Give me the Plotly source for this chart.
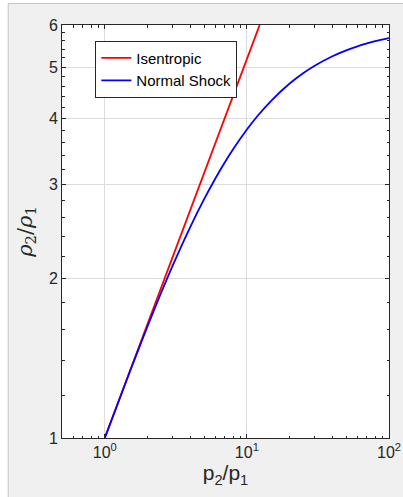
import plotly.graph_objects as go

# Data
iso_p = [1.0, 1.5, 2.0, 3.0, 4.0, 5.0, 6.0, 8.0, 10.0, 12.3]
iso_rho = [1.0, 1.336, 1.641, 2.193, 2.692, 3.157, 3.598, 4.42, 5.18, 6.0]

shock_p = [1.0, 1.5, 2.0, 2.5, 3.0, 4.0, 5.0, 6.0, 7.0, 8.0, 10.0, 12.0, 15.0,
           20.0, 25.0, 30.0, 40.0, 50.0, 60.0, 70.0, 80.0, 100.0]
shock_rho = [1.0, 1.333, 1.625, 1.882, 2.111, 2.5, 2.818, 3.083, 3.308, 3.5,
             3.8125, 4.056, 4.333, 4.654, 4.871, 5.028, 5.239, 5.375, 5.47,
             5.539, 5.593, 5.67]

x_ticks = [1, 10, 100]
x_ticktext = ["10<sup>0</sup>", "10<sup>1</sup>", "10<sup>2</sup>"]
x_minor = [0.6, 0.7, 0.8, 0.9, 2, 3, 4, 5, 6, 7, 8, 9, 20, 30, 40, 50, 60, 70, 80, 90]
y_ticks = [1, 2, 3, 4, 5, 6]
y_minor = [1.2, 1.4, 1.6, 1.8, 2.2, 2.4, 2.6, 2.8, 3.2, 3.4, 3.6, 3.8,
           4.2, 4.4, 4.6, 4.8, 5.2, 5.4, 5.6, 5.8]

fig = go.Figure()
fig.add_trace(go.Scatter(x=iso_p, y=iso_rho, mode="lines", name="Isentropic",
                         line=dict(color="#ff0000", width=1.8)))
fig.add_trace(go.Scatter(x=shock_p, y=shock_rho, mode="lines", name="Normal Shock",
                         line=dict(color="#0000ff", width=1.8, shape="spline")))

axis_color = "#262626"
edge = "#c4c4c4"
fig.update_layout(
    width=403, height=497,
    paper_bgcolor="#f0f0f0", plot_bgcolor="#ffffff",
    margin=dict(l=62, r=14, t=25, b=59, pad=0, autoexpand=False),
    font=dict(family="Liberation Sans, Arial, sans-serif", color=axis_color, size=16),
    showlegend=True,
    legend=dict(x=0.102, y=0.962, xanchor="left", yanchor="top",
                bgcolor="#ffffff", bordercolor="#262626", borderwidth=1,
                font=dict(size=15, color="#000000"), itemwidth=30,
                tracegroupgap=0),
    shapes=[
        # white window strips (left and top) with thin border lines
        dict(type="rect", xref="paper", yref="paper", x0=-0.2, x1=-0.1645,
             y0=-0.2, y1=1.07, fillcolor="#ffffff", line=dict(width=0)),
        dict(type="rect", xref="paper", yref="paper", x0=-0.2, x1=1.1,
             y0=1.0521, y1=1.07, fillcolor="#ffffff", line=dict(width=0)),
        dict(type="line", xref="paper", yref="paper",
             x0=-0.1645, x1=-0.1645, y0=-0.2, y1=1.0521,
             line=dict(color=edge, width=1)),
        dict(type="line", xref="paper", yref="paper",
             x0=-0.1645, x1=1.1, y0=1.0521, y1=1.0521,
             line=dict(color=edge, width=1)),
    ],
)

fig.update_xaxes(
    type="log", range=[-0.30103, 2], automargin=False,
    tickmode="array", tickvals=x_ticks, ticktext=x_ticktext,
    ticks="inside", ticklen=4, tickwidth=1, tickcolor=axis_color,
    showline=True, linecolor=axis_color, linewidth=1, mirror="allticks",
    showgrid=True, gridcolor="#dcdcdc", gridwidth=1,
    zeroline=False,
    minor=dict(tickmode="array", tickvals=x_minor, ticks="inside",
               ticklen=2.5, tickcolor=axis_color, showgrid=False),
    title=dict(text="p<sub>2</sub>/p<sub>1</sub>", font=dict(size=21), standoff=2),
)
fig.update_yaxes(
    type="log", range=[0, 0.7781513], automargin=False,
    tickmode="array", tickvals=y_ticks, ticktext=[str(v) for v in y_ticks],
    ticks="inside", ticklen=4, tickwidth=1, tickcolor=axis_color,
    showline=True, linecolor=axis_color, linewidth=1, mirror="allticks",
    showgrid=True, gridcolor="#dcdcdc", gridwidth=1,
    zeroline=False,
    minor=dict(tickmode="array", tickvals=y_minor, ticks="inside",
               ticklen=2.5, tickcolor=axis_color, showgrid=False),
    title=dict(text="<i>ρ</i><sub>2</sub>/<i>ρ</i><sub>1</sub>",
               font=dict(size=21, family="DejaVu Serif, serif"), standoff=10),
)

fig.write_html(
    "out.html",
    config={"displayModeBar": False},
    post_script="document.body.style.margin='0px';document.body.style.overflow='hidden';",
)
